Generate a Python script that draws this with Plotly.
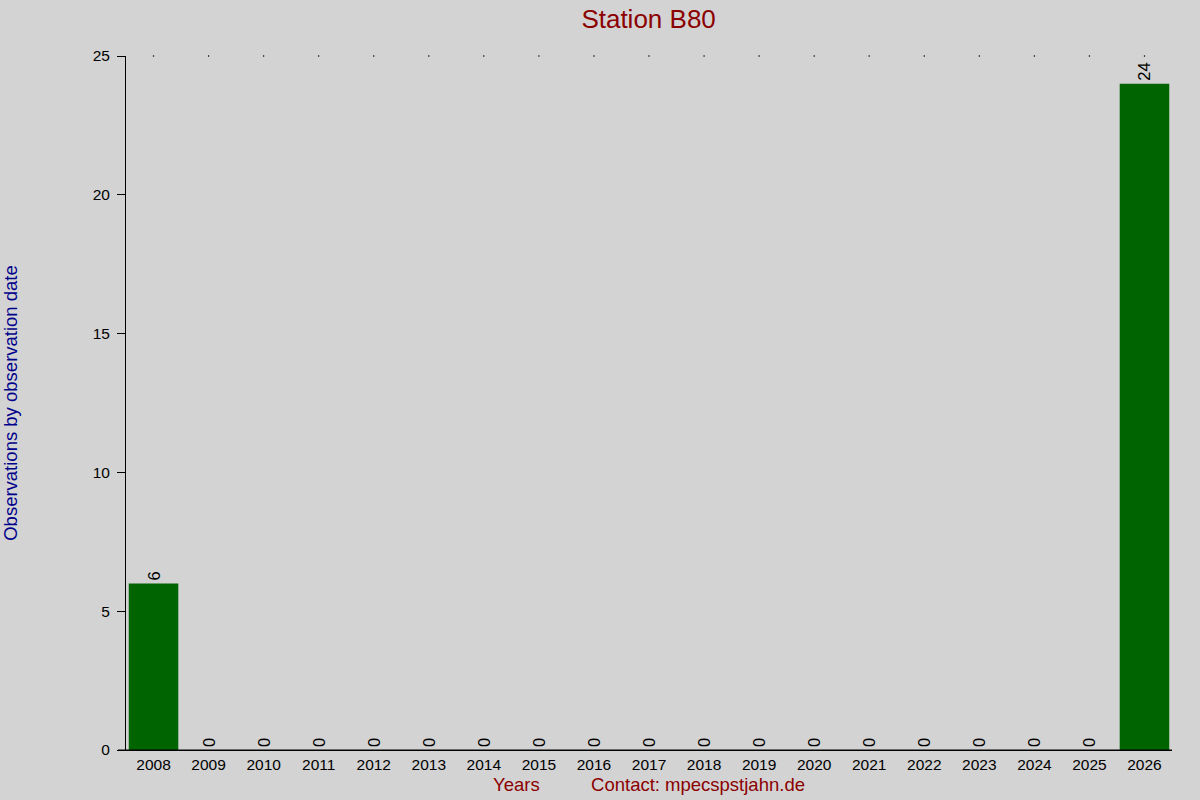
import plotly.graph_objects as go

# observations per year for station B80
years = [str(y) for y in range(2008, 2027)]
counts = [6, 0, 0, 0, 0, 0, 0, 0, 0, 0, 0, 0, 0, 0, 0, 0, 0, 0, 24]
y_max = 25
y_ticks = [0, 5, 10, 15, 20, 25]

fig = go.Figure()

fig.add_trace(go.Bar(
    x=years, y=counts, width=0.9,
    marker=dict(color="#006400", line=dict(width=0)),
    text=[str(c) for c in counts], textposition="outside", textangle=-90,
    textfont=dict(size=16.5, color="black"), cliponaxis=False,
))

# little dots along the top edge
fig.add_trace(go.Scatter(
    x=years, y=[y_max] * len(years), mode="markers",
    marker=dict(size=1.5, color="black"), cliponaxis=False, hoverinfo="skip",
))

gap = "\u00a0" * 10
fig.update_layout(
    width=1200, height=800,
    paper_bgcolor="#D3D3D3", plot_bgcolor="#D3D3D3",
    font=dict(family="Liberation Sans, Arial, sans-serif", size=15, color="black"),
    showlegend=False,
    margin=dict(l=126, r=28, t=56, b=50, autoexpand=False),
    title=dict(text="Station B80", x=0.5405, xanchor="center", y=0.977, yanchor="middle",
               font=dict(size=26, color="#8B0000")),
    bargap=0.1,
)

# the baseline runs a bit past the y axis on the left
fig.add_shape(type="line", xref="paper", yref="paper", x0=-0.0077, x1=1, y0=0, y1=0,
              line=dict(color="black", width=1))

fig.update_xaxes(
    type="category", range=[-0.5, len(years) - 0.5],
    showline=True, linecolor="black", linewidth=1,
    showgrid=False, ticks="", tickfont=dict(size=15.5), automargin=False,
    title=dict(text="Years" + gap + "Contact: mpecspstjahn.de",
               font=dict(size=18.5, color="#8B0000"), standoff=6),
)
fig.update_yaxes(
    range=[0, y_max], tickvals=y_ticks,
    showline=True, linecolor="black", linewidth=1,
    showgrid=False, zeroline=False, ticks="outside", ticklen=8, tickcolor="black",
    tickfont=dict(size=15.5), ticklabelstandoff=4, automargin=False,
    title=dict(text="Observations by observation date",
               font=dict(size=18.5, color="#00008B"), standoff=76),
)

fig.write_html("out.html", config={"displayModeBar": False},
               post_script="document.body.style.margin='0';")
